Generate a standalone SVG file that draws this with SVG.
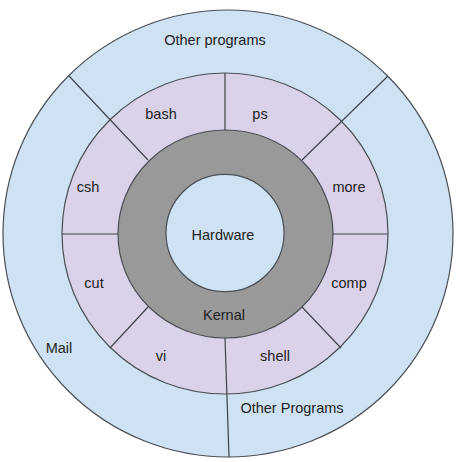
<svg xmlns="http://www.w3.org/2000/svg" width="459" height="462" viewBox="0 0 459 462">
<style>
.ring{stroke:#4a4f55;stroke-width:1.2}
.ln{stroke:#3f444a;stroke-width:1.2;fill:none}
text{font-family:"Liberation Sans",Arial,sans-serif;font-size:14.5px;fill:#222;text-anchor:middle}
</style>
<rect width="459" height="462" fill="#ffffff"/>
<g id="outer-ring">
<ellipse class="ring" cx="228" cy="233.5" rx="225" ry="223.5" fill="#cfe2f3"/>
</g>
<g id="shell-ring">
<ellipse class="ring" cx="225" cy="233.5" rx="163" ry="160.5" fill="#d9d2e9"/>
</g>
<g id="kernal">
<ellipse class="ring" cx="225.5" cy="234" rx="107.5" ry="104" fill="#999999"/>
<text x="224" y="320">Kernal</text>
</g>
<g id="hardware">
<ellipse class="ring" cx="225" cy="233" rx="59" ry="58.7" fill="#cfe2f3"/>
<text x="223" y="240">Hardware</text>
</g>
<g id="connectors">
<line class="ln" x1="225" y1="73" x2="225" y2="130"/>
<line class="ln" x1="69" y1="76" x2="148" y2="160"/>
<line class="ln" x1="388" y1="76" x2="302" y2="160"/>
<line class="ln" x1="62" y1="234" x2="118" y2="234"/>
<line class="ln" x1="333" y1="234" x2="388" y2="234"/>
<line class="ln" x1="148" y1="307" x2="110" y2="348"/>
<line class="ln" x1="302" y1="307" x2="341" y2="348"/>
<line class="ln" x1="225" y1="338" x2="229" y2="457"/>
</g>
<g id="other-programs-top"><text x="215" y="45">Other programs</text></g>
<g id="bash"><text x="161" y="119">bash</text></g>
<g id="ps"><text x="260" y="119">ps</text></g>
<g id="csh"><text x="88" y="192">csh</text></g>
<g id="more"><text x="349" y="192">more</text></g>
<g id="cut"><text x="94" y="288">cut</text></g>
<g id="comp"><text x="349" y="288">comp</text></g>
<g id="mail"><text x="59" y="353">Mail</text></g>
<g id="vi"><text x="161" y="361">vi</text></g>
<g id="shell"><text x="275" y="361">shell</text></g>
<g id="other-programs-bottom"><text x="292" y="413">Other Programs</text></g>
</svg>
